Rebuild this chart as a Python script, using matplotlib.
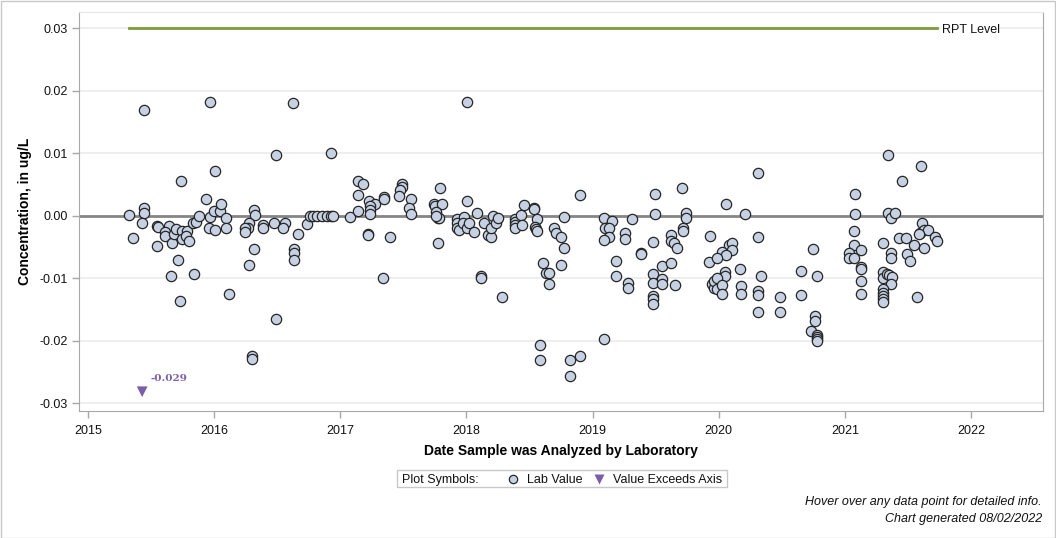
import matplotlib
matplotlib.use("Agg")
import matplotlib.pyplot as plt
from matplotlib.lines import Line2D
from matplotlib.patches import Rectangle

plt.rcParams['font.family'] = ['Liberation Sans', 'DejaVu Sans']

# ---------------- data ----------------
dates = [
    2015.325, 2015.359, 2015.446, 2015.446, 2015.446, 2015.431, 2015.545, 2015.557, 2015.547, 2015.645,
    2015.611, 2015.611, 2015.669, 2015.661, 2015.684, 2015.703, 2015.714, 2015.732, 2015.738, 2015.743,
    2015.745, 2015.787, 2015.777, 2015.806, 2015.835, 2015.854, 2015.841, 2015.883, 2015.936, 2015.967,
    2015.967, 2015.962, 2016.002, 2016.005, 2016.010, 2016.047, 2016.057, 2016.094, 2016.094, 2016.121,
    2016.319, 2016.327, 2016.279, 2016.271, 2016.247, 2016.247, 2016.388, 2016.390, 2016.477, 2016.562,
    2016.546, 2016.665, 2016.737, 2016.319, 2016.277, 2016.634, 2016.634, 2016.634, 2016.491, 2016.628,
    2016.927, 2016.491, 2016.301, 2016.301, 2016.760, 2016.787, 2016.819, 2016.853, 2016.893, 2016.927,
    2016.940, 2017.080, 2017.144, 2017.183, 2017.144, 2017.144, 2017.231, 2017.278, 2017.236, 2017.236,
    2017.236, 2017.223, 2017.223, 2017.350, 2017.350, 2017.395, 2017.339, 2017.488, 2017.492, 2017.474,
    2017.466, 2017.561, 2017.548, 2017.564, 2017.791, 2017.746, 2017.752, 2017.807, 2017.760, 2017.778,
    2017.786, 2017.757, 2017.776, 2017.924, 2017.929, 2017.924, 2017.942, 2017.982, 2017.976, 2018.006,
    2018.006, 2018.902, 2018.006, 2018.021, 2018.063, 2018.085, 2018.143, 2018.170, 2018.196, 2018.196,
    2018.214, 2018.238, 2018.254, 2018.119, 2018.119, 2018.285, 2018.386, 2018.386, 2018.386, 2018.386,
    2018.431, 2018.439, 2018.458, 2018.539, 2018.539, 2018.563, 2018.545, 2018.550, 2018.563, 2018.608,
    2018.632, 2018.656, 2018.653, 2018.587, 2018.587, 2018.695, 2018.711, 2018.753, 2018.777, 2018.777,
    2018.753, 2018.825, 2018.904, 2018.825, 2019.094, 2019.094, 2019.153, 2019.100, 2019.134, 2019.134,
    2019.094, 2019.316, 2019.261, 2019.261, 2019.187, 2019.187, 2019.285, 2019.285, 2019.388, 2019.388,
    2019.496, 2019.496, 2019.483, 2019.483, 2019.483, 2019.483, 2019.483, 2019.483, 2019.554, 2019.554,
    2019.554, 2019.618, 2019.655, 2019.705, 2019.623, 2019.623, 2019.645, 2019.671, 2019.742, 2019.742,
    2019.718, 2019.718, 2019.933, 2019.919, 2019.946, 2019.959, 2019.959, 2020.308, 2020.054, 2020.205,
    2020.308, 2020.078, 2020.109, 2020.109, 2020.022, 2020.054, 2019.990, 2020.165, 2020.051, 2020.051,
    2019.990, 2019.990, 2020.022, 2020.022, 2020.173, 2020.173, 2020.337, 2020.308, 2020.308, 2020.308,
    2020.488, 2020.488, 2020.649, 2020.649, 2020.744, 2020.781, 2020.765, 2020.765, 2020.731, 2020.781,
    2020.781, 2020.781, 2020.781, 2021.339, 2021.600, 2021.450, 2021.077, 2021.077, 2021.339, 2021.362,
    2021.394, 2021.072, 2021.611, 2021.598, 2021.624, 2021.656, 2021.584, 2021.717, 2021.727, 2021.429,
    2021.487, 2021.550, 2021.624, 2021.299, 2021.069, 2021.130, 2021.029, 2021.029, 2021.069, 2021.362,
    2021.362, 2021.495, 2021.513, 2021.130, 2021.130, 2021.130, 2021.130, 2021.299, 2021.299, 2021.334,
    2021.352, 2021.373, 2021.362, 2021.299, 2021.299, 2021.299, 2021.299, 2021.299, 2021.568,
]
values = [
    0.0001, -0.0035, 0.0169, 0.0013, 0.0005, -0.0011, -0.0016, -0.0018, -0.0048, -0.0016,
    -0.0026, -0.0032, -0.0044, -0.0097, -0.0029, -0.0022, -0.0071, -0.0137, 0.0055, -0.0025,
    -0.0037, -0.0024, -0.0033, -0.0040, -0.0012, -0.0010, -0.0093, 0.0000, 0.0027, 0.0182,
    -0.0002, -0.0019, 0.0007, 0.0071, -0.0023, 0.0007, 0.0018, -0.0003, -0.0019, -0.0126,
    0.0009, 0.0001, -0.0011, -0.0019, -0.0020, -0.0026, -0.0015, -0.0020, -0.0012, -0.0012,
    -0.0019, -0.0030, -0.0013, -0.0053, -0.0079, -0.0054, -0.0059, -0.0071, 0.0097, 0.0180,
    0.0100, -0.0165, -0.0225, -0.0230, 0.0000, 0.0000, 0.0000, 0.0000, 0.0000, 0.0000,
    0.0000, -0.0002, 0.0055, 0.0050, 0.0033, 0.0008, 0.0023, 0.0019, 0.0016, 0.0009,
    0.0003, -0.0029, -0.0031, 0.0030, 0.0026, -0.0034, -0.0100, 0.0050, 0.0046, 0.0041,
    0.0032, 0.0027, 0.0013, 0.0003, 0.0044, 0.0019, 0.0015, 0.0019, 0.0006, -0.0003,
    -0.0004, 0.0000, -0.0044, -0.0005, -0.0012, -0.0019, -0.0023, -0.0002, -0.0012, 0.0182,
    0.0023, 0.0033, -0.0020, -0.0012, -0.0026, 0.0005, -0.0011, -0.0031, -0.0034, -0.0020,
    0.0000, -0.0012, -0.0004, -0.0096, -0.0100, -0.0130, -0.0005, -0.0010, -0.0015, -0.0020,
    0.0001, -0.0015, 0.0017, 0.0013, 0.0010, -0.0005, -0.0018, -0.0021, -0.0024, -0.0075,
    -0.0092, -0.0092, -0.0109, -0.0207, -0.0231, -0.0020, -0.0027, -0.0034, -0.0002, -0.0052,
    -0.0079, -0.0231, -0.0225, -0.0256, -0.0197, -0.0003, -0.0008, -0.0020, -0.0020, -0.0034,
    -0.0039, -0.0006, -0.0027, -0.0038, -0.0073, -0.0097, -0.0108, -0.0116, -0.0060, -0.0062,
    0.0035, 0.0002, -0.0042, -0.0094, -0.0108, -0.0128, -0.0133, -0.0142, -0.0081, -0.0102,
    -0.0110, -0.0076, -0.0111, 0.0045, -0.0031, -0.0041, -0.0044, -0.0052, 0.0004, -0.0003,
    -0.0020, -0.0025, -0.0032, -0.0074, -0.0110, -0.0116, -0.0105, 0.0068, 0.0018, 0.0002,
    -0.0034, -0.0047, -0.0043, -0.0055, -0.0058, -0.0063, -0.0068, -0.0085, -0.0091, -0.0096,
    -0.0100, -0.0118, -0.0111, -0.0125, -0.0112, -0.0125, -0.0097, -0.0120, -0.0127, -0.0154,
    -0.0131, -0.0154, -0.0089, -0.0127, -0.0053, -0.0096, -0.0160, -0.0168, -0.0184, -0.0191,
    -0.0195, -0.0198, -0.0200, 0.0097, 0.0079, 0.0056, 0.0035, 0.0002, 0.0005, -0.0003,
    0.0005, -0.0025, -0.0011, -0.0027, -0.0023, -0.0023, -0.0029, -0.0034, -0.0041, -0.0036,
    -0.0036, -0.0047, -0.0052, -0.0043, -0.0047, -0.0055, -0.0059, -0.0067, -0.0068, -0.0059,
    -0.0068, -0.0061, -0.0072, -0.0082, -0.0085, -0.0105, -0.0126, -0.0090, -0.0100, -0.0093,
    -0.0095, -0.0098, -0.0110, -0.0118, -0.0124, -0.0129, -0.0133, -0.0138, -0.0131,
]

exceed_dates = [2015.431]
exceed_values = [-0.029]
exceed_plot_y = -0.0282

rpt_level = 0.03
y_ticks = [0.03, 0.02, 0.01, 0.00, -0.01, -0.02, -0.03]
x_ticks = [2015, 2016, 2017, 2018, 2019, 2020, 2021, 2022]

# ---------------- figure ----------------
W, H = 1056, 538
fig = plt.figure(figsize=(W / 100, H / 100), dpi=100)
ax = fig.add_axes([79.3 / W, 1 - 410.7 / H, (1043.3 - 79.3) / W, (410.7 - 11.7) / H])

ax.set_xlim(2014.933, 2022.572)
ax.set_ylim(-0.03123, 0.03266)

# grid
for yt in y_ticks:
    if yt != 0:
        ax.axhline(yt, color='#ebebeb', lw=1.2, zorder=0)
ax.axhline(0, color='#858585', lw=2, zorder=1)

# RPT line
x0, x1 = min(dates), max(dates)
ax.plot([x0, x1], [rpt_level, rpt_level], color='#7d9c3c', lw=2, zorder=2)
ax.text(x1 + 0.04, rpt_level, 'RPT Level', fontsize=9, va='center_baseline', ha='left',
        color='#111111', zorder=3,
        bbox=dict(facecolor='white', edgecolor='none', pad=0.5))

# data
ax.scatter(dates, values, s=55, facecolor='#c6d2e3', edgecolor='#262626',
           linewidths=0.9, zorder=4)
ax.scatter(exceed_dates, [exceed_plot_y] * len(exceed_dates), marker='v', s=60,
           color='#7b5ea7', edgecolor='none', zorder=4)
for d, v in zip(exceed_dates, exceed_values):
    ax.annotate(f'{v:.3f}', (d, exceed_plot_y), xytext=(6, 8), textcoords='offset points',
                fontsize=7.5, fontweight='bold', color='#7b5ea7', family='DejaVu Serif')

# axes styling
for s in ['left', 'bottom', 'right']:
    ax.spines[s].set_color('#a8a8a8')
ax.spines['top'].set_color('#e6e6e6')
ax.set_yticks(y_ticks)
ax.set_yticklabels([f'{t:.2f}' for t in y_ticks])
ax.set_xticks(x_ticks)
ax.set_xticklabels([str(t) for t in x_ticks])
ax.tick_params(axis='both', colors='#a8a8a8', labelcolor='#111111', labelsize=9, length=5, width=1)
ax.tick_params(axis='x', pad=5)
ax.set_xlabel('Date Sample was Analyzed by Laboratory', fontsize=10, fontweight='bold', labelpad=5)
ax.set_ylabel('Concentration, in ug/L', fontsize=10, fontweight='bold', labelpad=5)

# legend box
lx0, lx1 = 397 / W, 727 / W
ly0, ly1 = 1 - 487 / H, 1 - 470 / H
fig.patches.append(Rectangle((lx0, ly0), lx1 - lx0, ly1 - ly0, transform=fig.transFigure,
                             facecolor='white', edgecolor='#c8c8c8', lw=1))
ly = (ly0 + ly1) / 2
fig.text(402 / W, ly, 'Plot Symbols:', fontsize=9, va='center_baseline', ha='left', color='#111111')
fig.lines.append(Line2D([513 / W], [ly], transform=fig.transFigure, marker='o', markersize=6,
                        markerfacecolor='#c6d2e3', markeredgecolor='#262626', markeredgewidth=0.9,
                        linestyle='none'))
fig.text(527 / W, ly, 'Lab Value', fontsize=9, va='center_baseline', ha='left', color='#111111')
fig.lines.append(Line2D([599 / W], [ly], transform=fig.transFigure, marker='v', markersize=7,
                        markerfacecolor='#7b5ea7', markeredgecolor='none', linestyle='none'))
fig.text(613 / W, ly, 'Value Exceeds Axis', fontsize=9, va='center_baseline', ha='left', color='#111111')

# footnotes
fig.text(1042 / W, 1 - 502 / H, 'Hover over any data point for detailed info.', fontsize=9,
         style='italic', ha='right', va='center', color='#111111')
fig.text(1042 / W, 1 - 519 / H, 'Chart generated 08/02/2022', fontsize=9,
         style='italic', ha='right', va='center', color='#111111')

# outer frame
fig.patches.append(Rectangle((0.5 / W, 0.5 / H), 1 - 1.5 / W, 1 - 1.5 / H, transform=fig.transFigure,
                             facecolor='none', edgecolor='#c8c8c8', lw=1))

fig.savefig('out.png', dpi=100)
